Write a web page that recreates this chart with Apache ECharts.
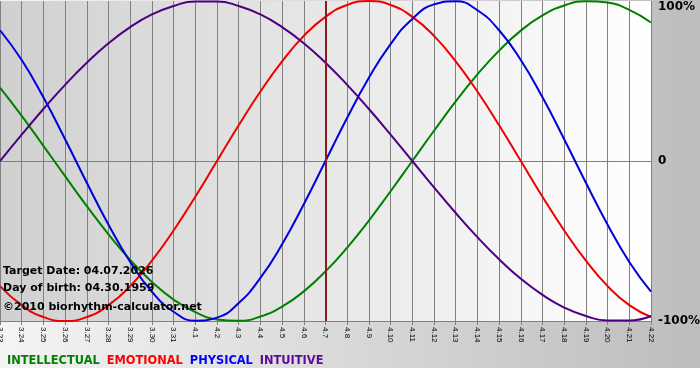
<!DOCTYPE html>
<html>
<head>
<meta charset="utf-8">
<script src="https://cdn.jsdelivr.net/npm/echarts@6/dist/echarts.min.js"></script>
<style>html,body{margin:0;padding:0;background:#fff}#c{width:700px;height:380px}</style>
</head>
<body>
<div id="c"></div>
<script>
var categories = ['3.23','3.24','3.25','3.26','3.27','3.28','3.29','3.30','3.31','4.1','4.2','4.3','4.4','4.5','4.6','4.7','4.8','4.9','4.10','4.11','4.12','4.13','4.14','4.15','4.16','4.17','4.18','4.19','4.20','4.21','4.22'];
var intellectual = [45.8,28.2,9.5,-9.5,-28.2,-45.8,-61.8,-75.6,-86.6,-94.5,-99.0,-99.9,-97.2,-91.0,-81.5,-69.0,-54.1,-37.2,-18.9,0,18.9,37.2,54.1,69.0,81.5,91.0,97.2,99.9,99.0,94.5,86.6];
var emotional = [-78.2,-90.1,-97.5,-100,-97.5,-90.1,-78.2,-62.3,-43.4,-22.3,0,22.3,43.4,62.3,78.2,90.1,97.5,100,97.5,90.1,78.2,62.3,43.4,22.3,0,-22.3,-43.4,-62.3,-78.2,-90.1,-97.5];
var physical = [81.7,63.1,39.8,13.6,-13.6,-39.8,-63.1,-81.7,-94.2,-99.8,-97.9,-88.8,-73.1,-52.0,-27.0,0,27.0,52.0,73.1,88.8,97.9,99.8,94.2,81.7,63.1,39.8,13.6,-13.6,-39.8,-63.1,-81.7];
var intuitive = [0,16.5,32.5,47.6,61.4,73.6,83.7,91.6,96.9,99.7,99.7,96.9,91.6,83.7,73.6,61.4,47.6,32.5,16.5,0,-16.5,-32.5,-47.6,-61.4,-73.6,-83.7,-91.6,-96.9,-99.7,-99.7,-96.9];
var yTicks = [-100, 0, 100];
var targetDay = '4.7';
var infoLines = ['Target Date: 04.07.2026', 'Day of birth: 04.30.1959'];
var copyright = '\u00a92010 biorhythm-calculator.net';
var seriesNames = ['INTELLECTUAL','EMOTIONAL','PHYSICAL','INTUITIVE'];
var seriesColors = ['#008000','#ee0000','#0000dd','#4b0082'];
var legendColors = ['#008000','#ff0000','#0000ff','#5a0a96'];

var chart = echarts.init(document.getElementById('c'), null, {renderer:'canvas'});
var dataSets = [intellectual, emotional, physical, intuitive];
var series = dataSets.map(function(d, k){
  return {
    name: seriesNames[k], type: 'line', data: d, smooth: true, showSymbol: false, symbol: 'none',
    lineStyle: {color: seriesColors[k], width: 2}, itemStyle: {color: seriesColors[k]},
    silent: true, animation: false, z: 3
  };
});
series.push({
  type: 'line', data: [], silent: true, animation: false,
  markLine: {symbol: 'none', silent: true, label: {show: false}, animation: false,
    lineStyle: {color: '#8a1c1c', width: 2, type: 'solid'},
    data: [{xAxis: targetDay}]}
});
var F = 'DejaVu Sans, Verdana, sans-serif';
var option = {
  animation: false,
  backgroundColor: '#ffffff',
  graphic: [
    {type: 'rect', z: -10, silent: true, shape: {x: 0, y: 0, width: 700, height: 368},
      style: {fill: new echarts.graphic.LinearGradient(0, 0, 1, 0, [{offset: 0, color: '#f4f4f4'}, {offset: 1, color: '#bdbdbd'}])}},
    {type: 'text', left: 3, top: 266, z: 10, style: {text: infoLines[0], font: 'bold 11px ' + F, fill: '#000'}},
    {type: 'text', left: 3, top: 283, z: 10, style: {text: infoLines[1], font: 'bold 11px ' + F, fill: '#000'}},
    {type: 'text', left: 3, top: 302, z: 10, style: {text: copyright, font: 'bold 11px ' + F, fill: '#000'}}
  ],
  legend: {
    left: 7, top: 356, icon: 'none', itemWidth: 0, itemHeight: 0, itemGap: 7, padding: 0,
    selectedMode: false,
    data: seriesNames.map(function(n, k){ return {name: n, textStyle: {color: legendColors[k]}}; }),
    textStyle: {fontFamily: F, fontWeight: 'bold', fontSize: 11.4, padding: [0,0,0,-5]}
  },
  grid: {left: 0, right: 49, top: 1, bottom: 59, show: true, borderWidth: 0, containLabel: false, outerBoundsMode: 'none',
    backgroundColor: new echarts.graphic.LinearGradient(0, 0, 1, 0, [{offset: 0, color: '#d0d0d0'}, {offset: 1, color: '#ffffff'}])},
  xAxis: {
    type: 'category', data: categories, boundaryGap: false,
    axisLine: {show: true, onZero: false, lineStyle: {color: '#808080', width: 1}},
    axisTick: {show: true, interval: 0, length: 4, lineStyle: {color: '#808080'}},
    axisLabel: {interval: 0, rotate: -90, margin: 6, color: '#000', fontFamily: 'Liberation Sans, Arial, sans-serif', fontSize: 8, hideOverlap: false},
    splitLine: {show: true, interval: 0, lineStyle: {color: '#808080', width: 1}}
  },
  yAxis: {
    type: 'value', position: 'right', min: yTicks[0], max: yTicks[2], interval: 100,
    axisLine: {show: false}, axisTick: {show: false},
    axisLabel: {margin: 7, color: '#000', fontFamily: F, fontWeight: 'bold', fontSize: 12,
      verticalAlignMaxLabel: 'top', verticalAlignMinLabel: 'middle',
      formatter: function(v){ return v === 0 ? '0' : v + '%'; }},
    splitLine: {show: true, lineStyle: {color: ['rgba(0,0,0,0)', '#808080', 'rgba(0,0,0,0)'], width: 1}}
  },
  series: series
};
chart.setOption(option);
</script>
</body>
</html>
